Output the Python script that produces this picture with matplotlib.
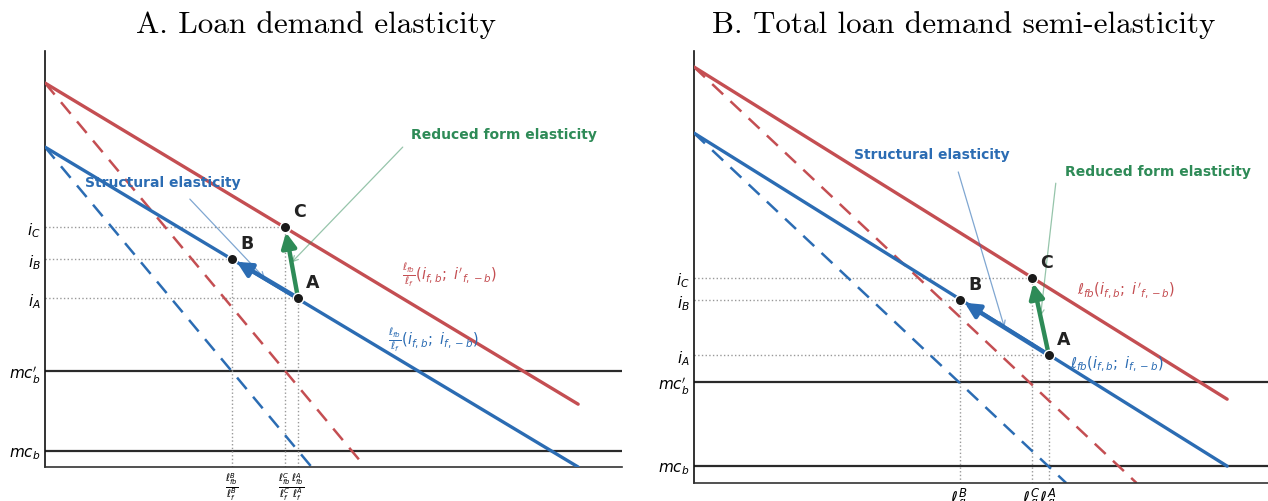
import matplotlib
matplotlib.use('Agg')
import matplotlib.pyplot as plt

# colours
red = '#c44e52'
blue = '#2b6cb3'
green = '#2e8b57'

# ---- panel A: loan demand elasticity ----
a_curve_x = [0.0, 9.24]
a_blue_y = [7.69, 0.0]
a_red_y = [9.23, 1.51]
a_mr_blue_x = [0.0, 4.62]
a_mr_red_x = [0.0, 5.55]
a_mc = [2.31, 0.385]
a_mc_labels = [r"$mc^{\prime}_b$", r"$mc_b$"]
a_pts = {'A': (4.385, 4.06), 'B': (3.24, 5.0), 'C': (4.16, 5.77)}
a_ylabels = {'A': r'$i_A$', 'B': r'$i_B$', 'C': r'$i_C$'}
a_xlabels = {'B': r'$\frac{\ell^B_{fb}}{\ell^B_f}$',
             'C': r'$\frac{\ell^C_{fb}}{\ell^C_f}$',
             'A': r'$\frac{\ell^A_{fb}}{\ell^A_f}$'}
a_red_label = r"$\frac{\ell_{fb}}{\ell_f}(i_{f,b};\ i'_{f,-b})$"
a_blue_label = r"$\frac{\ell_{fb}}{\ell_f}(i_{f,b};\ i_{f,-b})$"

# ---- panel B: total loan demand semi-elasticity ----
b_curve_x = [0.0, 9.24]
b_blue_y = [8.10, 0.39]
b_red_y = [9.63, 1.94]
b_mr_blue_x = [0.0, 6.45]
b_mr_red_x = [0.0, 7.67]
b_mc = [2.34, 0.39]
b_mc_labels = [r"$mc^{\prime}_b$", r"$mc_b$"]
b_pts = {'A': (6.15, 2.96), 'B': (4.61, 4.24), 'C': (5.86, 4.75)}
b_ylabels = {'A': r'$i_A$', 'B': r'$i_B$', 'C': r'$i_C$'}
b_xlabels = {'B': r'$\ell^B_{fb}$', 'C': r'$\ell^C_{fb}$', 'A': r'$\ell^A_{fb}$'}
b_red_label = r"$\ell_{fb}(i_{f,b};\ i'_{f,-b})$"
b_blue_label = r"$\ell_{fb}(i_{f,b};\ i_{f,-b})$"


def draw_panel(ax, curve_x, blue_y, red_y, mr_blue_x, mr_red_x, mc, mc_labels,
               pts, ylabels, xlabels, red_label, blue_label, layout, xfont):
    ax.set_xlim(0, 10)
    ax.set_ylim(0, 10)

    # demand curves and their steeper (dashed) counterparts
    ax.plot(curve_x, red_y, color=red, lw=2.4, solid_capstyle='round', zorder=3)
    ax.plot(curve_x, blue_y, color=blue, lw=2.4, solid_capstyle='round', zorder=3)
    ax.plot(mr_red_x, [red_y[0], 0], color=red, lw=1.8, dashes=(6, 4), zorder=2)
    ax.plot(mr_blue_x, [blue_y[0], 0], color=blue, lw=1.8, dashes=(6, 4), zorder=2)

    for m in mc:
        ax.axhline(m, color='#2a2a2a', lw=1.6, zorder=1)

    # guide lines to the axes
    for k, (x, y) in pts.items():
        ax.plot([0, x], [y, y], color='#999999', lw=1, ls=':', zorder=1)
        ax.plot([x, x], [0, y], color='#999999', lw=1, ls=':', zorder=1)

    # movements A->B (structural) and A->C (reduced form)
    ax.annotate('', xy=pts['B'], xytext=pts['A'],
                arrowprops=dict(arrowstyle='-|>', color=blue, lw=3.2,
                                mutation_scale=22, shrinkA=0, shrinkB=4), zorder=5)
    ax.annotate('', xy=pts['C'], xytext=pts['A'],
                arrowprops=dict(arrowstyle='-|>', color=green, lw=3.2,
                                mutation_scale=22, shrinkA=0, shrinkB=4), zorder=5)

    for k, (x, y) in pts.items():
        ax.plot(x, y, 'o', color='#1a1a1a', ms=7.5, mec='white', mew=1, zorder=6)
        ax.annotate(k, (x, y), xytext=(6, 5), textcoords='offset points',
                    fontsize=12.5, fontweight='bold', color='#222222',
                    ha='left', va='bottom', zorder=7)

    # elasticity call-outs
    mid_ab = ((pts['A'][0] + pts['B'][0]) / 2, (pts['A'][1] + pts['B'][1]) / 2)
    mid_ac = ((pts['A'][0] + pts['C'][0]) / 2, (pts['A'][1] + pts['C'][1]) / 2)
    ax.text(*layout['struct_text'], 'Structural elasticity', color=blue,
            fontsize=10, fontweight='bold', va='center', ha='left')
    ax.annotate('', xy=mid_ab, xytext=layout['struct_start'],
                arrowprops=dict(arrowstyle='->', color=blue, lw=0.9, alpha=0.6,
                                shrinkA=0, shrinkB=0))
    ax.text(*layout['reduced_text'], 'Reduced form elasticity', color=green,
            fontsize=10, fontweight='bold', va='center', ha='left')
    ax.annotate('', xy=mid_ac, xytext=layout['reduced_start'],
                arrowprops=dict(arrowstyle='->', color=green, lw=0.9, alpha=0.5,
                                shrinkA=0, shrinkB=0))

    ax.text(*layout['red_label'], red_label, color=red, fontsize=10.5, va='center')
    ax.text(*layout['blue_label'], blue_label, color=blue, fontsize=10.5, va='center')

    # ticks
    yt = [pts[k][1] for k in ylabels] + list(mc)
    ax.set_yticks(yt)
    ax.set_yticklabels(list(ylabels.values()) + list(mc_labels), fontsize=11)
    ax.set_xticks([pts[k][0] for k in xlabels])
    ax.set_xticklabels(list(xlabels.values()), fontsize=xfont)
    ax.tick_params(axis='y', length=0, pad=3)
    ax.tick_params(axis='x', length=0, pad=2)

    for s in ['top', 'right']:
        ax.spines[s].set_visible(False)
    ax.spines['left'].set_color('#111111')
    ax.spines['bottom'].set_color('#333333')
    ax.spines['left'].set_linewidth(1.2)
    ax.spines['bottom'].set_linewidth(1.2)


fig = plt.figure(figsize=(12.68, 5.02), dpi=100)
ax1 = fig.add_axes([45 / 1268, 34 / 502, 577 / 1268, 416 / 502])
ax2 = fig.add_axes([694 / 1268, 18 / 502, 577 / 1268, 432 / 502])

draw_panel(ax1, a_curve_x, a_blue_y, a_red_y, a_mr_blue_x, a_mr_red_x, a_mc,
           a_mc_labels, a_pts, a_ylabels, a_xlabels, a_red_label, a_blue_label,
           dict(struct_text=(0.69, 6.85), struct_start=(2.51, 6.44),
                reduced_text=(6.34, 8.0), reduced_start=(6.20, 7.69),
                red_label=(6.19, 4.64), blue_label=(5.94, 3.08)), xfont=10)
draw_panel(ax2, b_curve_x, b_blue_y, b_red_y, b_mr_blue_x, b_mr_red_x, b_mc,
           b_mc_labels, b_pts, b_ylabels, b_xlabels, b_red_label, b_blue_label,
           dict(struct_text=(2.77, 7.62), struct_start=(4.58, 7.2),
                reduced_text=(6.43, 7.22), reduced_start=(6.27, 6.94),
                red_label=(6.64, 4.49), blue_label=(6.52, 2.78)), xfont=12)

fig.text(316 / 1268, 1 - 25 / 502, 'A. Loan demand elasticity', family='cmr10',
         fontsize=22.4, ha='center', va='center')
fig.text(964 / 1268, 1 - 25 / 502, 'B. Total loan demand semi-elasticity',
         family='cmr10', fontsize=22.4, ha='center', va='center')

fig.savefig('out.png', dpi=100)
